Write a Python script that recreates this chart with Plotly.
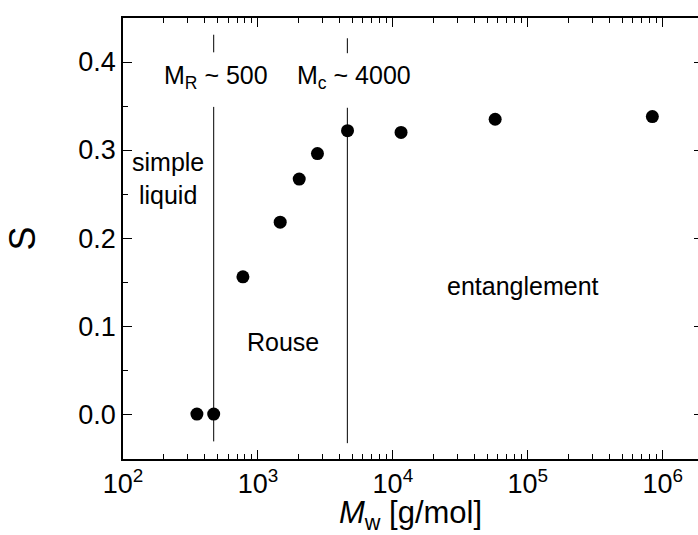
import math
import plotly.graph_objects as go

# ---- data ----
mw = [353, 470, 774, 1462, 2023, 2762, 4613, 11500, 57300, 838000]
s_values = [0.0, 0.0, 0.156, 0.218, 0.267, 0.296, 0.322, 0.320, 0.335, 0.338]

mr_line_x = 470
mc_line_x = 4600
mr_line_y = [0.431, 0.411, None, 0.349, -0.031]
mc_line_y = [0.427, 0.410, None, 0.348, -0.033]

x_tickvals = [1e2, 1e3, 1e4, 1e5, 1e6]
x_ticktext = ["10<sup>2</sup>", "10<sup>3</sup>", "10<sup>4</sup>", "10<sup>5</sup>", "10<sup>6</sup>"]
x_minor = [m * 10 ** k for k in range(2, 7) for m in range(2, 10)]
y_tickvals = [0.0, 0.1, 0.2, 0.3, 0.4]
y_minor = [-0.05, 0.05, 0.15, 0.25, 0.35, 0.45]

labels = [
    ("M<sub>R</sub> ~ 500", 491, 0.383),
    ("M<sub>c</sub> ~ 4000", 5165, 0.383),
    ("simple<br>liquid", 217, 0.268),
    ("Rouse", 1538, 0.082),
    ("entanglement", 92500, 0.146),
]

FONT = "Arial, 'Liberation Sans', sans-serif"
X_RANGE = [2, 6.2615]
Y_RANGE = [-0.051, 0.45]

fig = go.Figure()
fig.add_trace(go.Scatter(x=[mr_line_x] * 2 + [None] + [mr_line_x] * 2, y=mr_line_y,
                         mode="lines", line=dict(color="black", width=1), hoverinfo="skip"))
fig.add_trace(go.Scatter(x=[mc_line_x] * 2 + [None] + [mc_line_x] * 2, y=mc_line_y,
                         mode="lines", line=dict(color="black", width=1), hoverinfo="skip"))
fig.add_trace(go.Scatter(x=mw, y=s_values, mode="markers",
                         marker=dict(color="black", size=13)))
# invisible helper traces so that the extra tick axes are drawn
for xa, ya in [("x2", "y2"), ("x3", "y3")]:
    fig.add_trace(go.Scatter(x=[mw[0]], y=[s_values[0]], xaxis=xa, yaxis=ya, mode="markers",
                             marker=dict(opacity=0), hoverinfo="skip"))

for txt, xv, yv in labels:
    fig.add_annotation(x=math.log10(xv), y=yv, xref="x", yref="y", text=txt,
                       showarrow=False, font=dict(family=FONT, size=25, color="black"),
                       xanchor="center", yanchor="middle")

TICK = dict(ticks="inside", tickwidth=1.2, tickcolor="black")
x_overlay = dict(type="log", range=X_RANGE, overlaying="x", anchor="y", tickmode="array",
                 tickvals=x_tickvals, showticklabels=False, showline=False,
                 showgrid=False, zeroline=False, ticklen=9, **TICK)
y_overlay = dict(range=Y_RANGE, overlaying="y", anchor="x", tickmode="array",
                 tickvals=y_tickvals, showticklabels=False, showline=False,
                 showgrid=False, zeroline=False, **TICK)

fig.update_layout(
    width=698, height=535,
    margin=dict(l=123, r=0, t=18, b=76),
    paper_bgcolor="white", plot_bgcolor="white",
    showlegend=False,
    font=dict(family=FONT, color="black"),
    xaxis=dict(
        type="log", range=X_RANGE,
        tickmode="array", tickvals=x_tickvals, ticktext=x_ticktext,
        ticklen=9, **TICK,
        minor=dict(tickmode="array", tickvals=x_minor, ticks="inside", ticklen=5,
                   tickwidth=1.2, tickcolor="black"),
        showline=True, linecolor="black", linewidth=1.5, mirror="ticks",
        showgrid=False, zeroline=False,
        tickfont=dict(family=FONT, size=27, color="black"),
        title=dict(text="<i>M</i><sub>w</sub> [g/mol]", font=dict(family=FONT, size=31, color="black"),
                   standoff=2),
    ),
    xaxis2=dict(side="top", **x_overlay),
    xaxis3=dict(side="bottom", **x_overlay),
    yaxis=dict(
        range=Y_RANGE,
        tickmode="array", tickvals=y_tickvals, tickformat=".1f",
        ticklen=9, **TICK,
        minor=dict(tickmode="array", tickvals=y_minor, ticks="inside", ticklen=5,
                   tickwidth=1.2, tickcolor="black"),
        showline=True, linecolor="black", linewidth=1.5,
        showgrid=False, zeroline=False,
        tickfont=dict(family=FONT, size=27, color="black"),
        title=dict(text="S", font=dict(family=FONT, size=36, color="black"), standoff=32),
    ),
    yaxis2=dict(side="right", ticklen=4, **y_overlay),
    yaxis3=dict(side="left", ticklen=9, **y_overlay),
)

fig.write_html("out.html")
